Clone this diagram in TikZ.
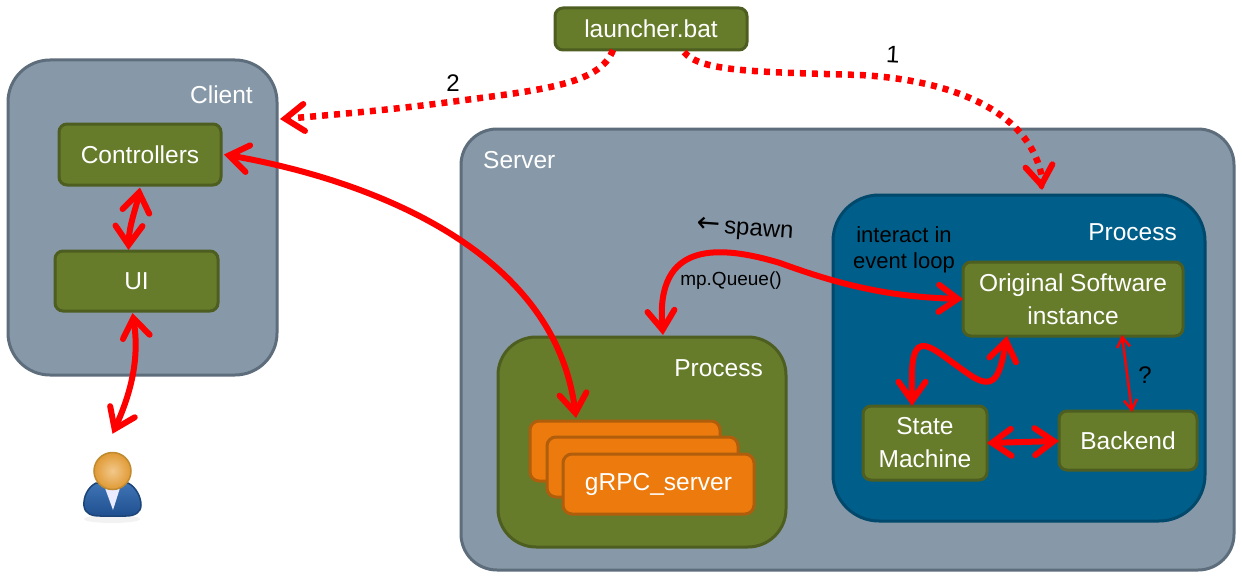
\documentclass[tikz,border=0pt]{standalone}
\usepackage{fontspec}
\setmainfont{Liberation Sans}
\newfontfamily\arrowfont{DejaVu Sans}
\usetikzlibrary{arrows.meta,calc}
\definecolor{greyfill}{HTML}{8799A8}
\definecolor{greyline}{HTML}{5E6D7B}
\definecolor{bluefill}{HTML}{005F8A}
\definecolor{blueline}{HTML}{00486C}
\definecolor{greenfill}{HTML}{667C2B}
\definecolor{greenline}{HTML}{4D5E20}
\definecolor{orangefill}{HTML}{EC7A0C}
\definecolor{orangeline}{HTML}{B05E0C}
\definecolor{wirered}{HTML}{FF0000}
\definecolor{headrim}{HTML}{C08A30}
\definecolor{headout}{HTML}{E09A35}
\definecolor{headin}{HTML}{F2C88A}
\definecolor{bodytop}{HTML}{3F74B5}
\definecolor{bodybot}{HTML}{1F4F8F}
\definecolor{bodyrim}{HTML}{1C4478}
\tikzset{
  x=1pt,y=-1pt,
  region/.style={draw,line width=3pt,outer sep=0pt,inner sep=0pt},
  greybox/.style={region,fill=greyfill,draw=greyline},
  bluebox/.style={region,fill=bluefill,draw=blueline},
  greenbox/.style={region,fill=greenfill,draw=greenline},
  leaf/.style={draw=greenline,fill=greenfill,line width=3pt,rounded corners=8pt,outer sep=0pt,inner sep=0pt,
    text=white,align=center,font=\fontsize{24.5}{33}\selectfont},
  orangebox/.style={draw=orangeline,fill=orangefill,line width=3pt,rounded corners=9pt,outer sep=0pt,inner sep=0pt,
    text=white,font=\fontsize{24.5}{30}\selectfont},
  title/.style={text=white,font=\fontsize{24.5}{28}\selectfont,inner sep=0pt},
  note/.style={text=black,align=center,inner sep=0pt,font=\fontsize{24}{28}\selectfont},
  barb/.tip={Straight Barb[length=19pt,width=27pt,line cap=round]},
  thinbarb/.tip={Straight Barb[length=10pt,width=13pt]},
  wire/.style={draw=wirered,line width=6pt,line cap=round,barb-barb},
  thinwire/.style={draw=wirered,line width=2.5pt,thinbarb-thinbarb},
  dotwire/.style={draw=wirered,line width=6.5pt,dash pattern=on 6pt off 6pt},
  tipstub/.style={draw=wirered,line width=6pt,line cap=round,barb-},
}
\begin{document}
\begin{tikzpicture}
\useasboundingbox (0,0) rectangle (1242,578);
\fill[white] (0,0) rectangle (1242,578);
% regions
\node[greybox,rounded corners=42pt,minimum width=269pt,minimum height=315pt] (client) at (142.5,217.5) {};
\node[greybox,rounded corners=36pt,minimum width=773pt,minimum height=441pt] (server) at (847.5,349.5) {};
\node[bluebox,rounded corners=46pt,minimum width=372pt,minimum height=326pt] (procb) at (1019,358) {};
\node[greenbox,rounded corners=38pt,minimum width=288pt,minimum height=210pt] (procg) at (642,442) {};
% leaf boxes
\node[leaf,minimum width=192pt,minimum height=42pt] (launcher) at (651,29) {launcher.bat};
\node[leaf,minimum width=162pt,minimum height=61pt] (controllers) at (140,154.5) {Controllers};
\node[leaf,minimum width=163pt,minimum height=60pt] (ui) at (136.5,281) {UI};
\node[leaf,minimum width=220pt,minimum height=74pt] (original) at (1073,299) {Original Software\\instance};
\node[leaf,minimum width=124pt,minimum height=74pt] (state) at (925,443) {State\\Machine};
\node[leaf,minimum width=138pt,minimum height=59pt] (backend) at (1128,440.5) {Backend};
\node[orangebox,minimum width=190pt,minimum height=60pt] (grpcA) at (625,451) {};
\node[orangebox,minimum width=191pt,minimum height=60pt] (grpcB) at (642.5,467) {};
\node[orangebox,minimum width=191pt,minimum height=60pt] (grpcC) at (658.5,484) {gRPC\_server};
% region titles
\node[title,anchor=east] (tclient) at (253,94.5) {Client};
\node[title,anchor=west] (tserver) at (483,160.5) {Server};
\node[title,anchor=east] (tprocb) at (1177,232.5) {Process};
\node[title,anchor=east] (tprocg) at (763,368.5) {Process};
% notes
\node[note,font=\fontsize{22}{26.5}\selectfont] (interact) at (904,250) {interact in\\event loop};
\node[note,rotate=-4] (spawn) at (745,230) {{\arrowfont\fontsize{28}{28}\selectfont ←}\hspace{4pt}spawn};
\node[note,font=\fontsize{19}{22}\selectfont] (queue) at (731,281) {mp.Queue()};
\node[note] (qmark) at (1145,375) {?};
\node[note,rotate=-3] (one) at (893,55) {1};
\node[note] (two) at (453,83) {2};
% user icon
\coordinate (userhead) at (112.5,471);
\fill[black,opacity=.05] (112,519) ellipse (28pt and 4pt);
\path[draw=bodyrim,line width=1.5pt,top color=bodytop,bottom color=bodybot]
  (96,483) .. controls (88,487) and (83,497) .. (84,506)
  .. controls (85,514) and (92,516) .. (100,516) -- (126,516)
  .. controls (134,516) and (141,513) .. (141,505)
  .. controls (141,497) and (136,487) .. (128,483) -- cycle;
\fill[white!92!blue] (105,488) -- (120,488) -- (113,510) -- cycle;
\node[circle,draw=headrim,line width=1.5pt,minimum size=37pt,inner sep=0pt,inner color=headin,outer color=headout] (user) at (userhead) {};
% connectors
\draw[dotwire] ([xshift=33pt,yshift=-2pt]launcher.south)
  .. controls (700,72) and (760,72) .. (860,75)
  .. controls (950,80) and (1030,110) .. (1042,178);
\draw[tipstub] (1042,190) -- (1041.5,186);
\draw[dotwire] ([xshift=-38pt]launcher.south)
  .. controls (600,85) and (540,90) .. (450,102)
  .. controls (390,110) and (330,115) .. (295,118);
\draw[tipstub] (280,119) -- (288,118.5);
\draw[wire] ([xshift=3pt]controllers.east)
  .. controls (370,180) and (555,250) .. (576,418);
\draw[wire] ([yshift=-2.5pt]controllers.south)
  .. controls (137,205) and (129,225) .. ([xshift=-8pt,yshift=1pt]ui.north);
\draw[wire] ([xshift=-4pt,yshift=-2pt]ui.south)
  .. controls (140,360) and (130,395) .. ([yshift=18pt]user.north);
\draw[wire] (original.west)
  .. controls (890,297) and (840,285) .. (780,263)
  .. controls (720,245) and (655,240) .. (663,335);
\draw[wire] ([xshift=-66pt]original.south)
  .. controls (1000,375) and (995,392) .. (970,375)
  .. controls (945,358) and (932,345) .. (922,346)
  .. controls (910,348) and (912,375) .. ([xshift=-13pt]state.north);
\draw[wire] (state.east) -- ([yshift=-0.5pt]backend.west);
\draw[thinwire] ([xshift=49pt,yshift=1pt]original.south) -- ([xshift=4pt,yshift=-1pt]backend.north);
\end{tikzpicture}
\end{document}
